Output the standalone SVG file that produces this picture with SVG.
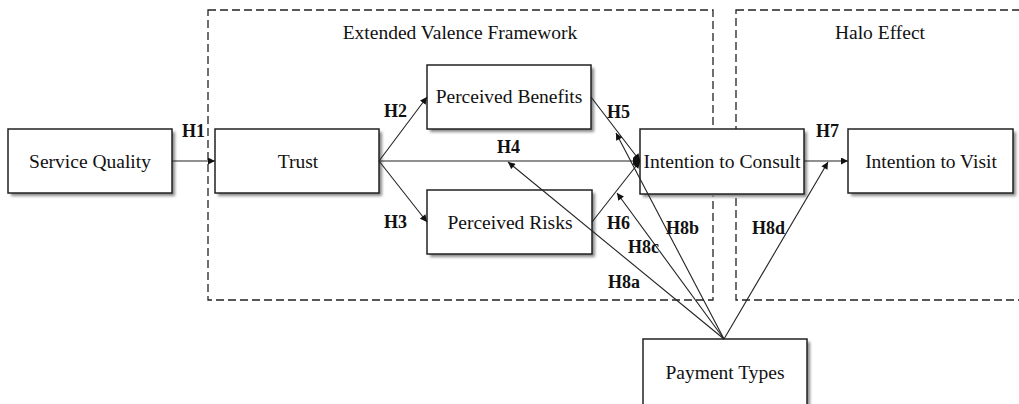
<svg xmlns="http://www.w3.org/2000/svg" width="1019" height="404" viewBox="0 0 1019 404">
<style>
.frame{fill:none;stroke:#222;stroke-width:1.3;stroke-dasharray:8 4}
.box{fill:#fff;stroke:#222;stroke-width:1.5}
.shadow{fill:#888;filter:url(#blur)}
.lbl{font-family:"Liberation Serif",serif;font-size:19.5px;fill:#111;text-anchor:middle}
.h{font-family:"Liberation Serif",serif;font-size:18px;font-weight:bold;fill:#111}
.ln{stroke:#222;stroke-width:1.1;fill:none;marker-end:url(#arr)}
</style>
<defs>
<filter id="blur" x="-10%" y="-10%" width="120%" height="130%"><feGaussianBlur stdDeviation="1.5"/></filter>
<marker id="arr" viewBox="0 0 10 10" refX="10" refY="5" markerWidth="8" markerHeight="7" markerUnits="userSpaceOnUse" orient="auto"><path d="M0,0 L10,5 L0,10 z" fill="#111"/></marker>
</defs>
<rect width="1019" height="404" fill="#fff"/>
<g id="frames">
<rect class="frame" x="208" y="10" width="505" height="290"/>
<rect class="frame" x="736" y="10" width="300" height="290"/>
<text class="lbl" x="460" y="39">Extended Valence Framework</text>
<text class="lbl" x="880" y="39">Halo Effect</text>
</g>
<g id="service-quality">
<rect class="shadow" x="11" y="132" width="164" height="64"/>
<rect class="box" x="8" y="129" width="164" height="64"/>
<text class="lbl" x="90" y="168">Service Quality</text>
</g>
<g id="trust">
<rect class="shadow" x="218" y="132" width="164" height="64"/>
<rect class="box" x="215" y="129" width="164" height="64"/>
<text class="lbl" x="298" y="168">Trust</text>
</g>
<g id="perceived-benefits">
<rect class="shadow" x="430" y="68" width="164" height="64"/>
<rect class="box" x="427" y="65" width="164" height="64"/>
<text class="lbl" x="509" y="103">Perceived Benefits</text>
</g>
<g id="perceived-risks">
<rect class="shadow" x="430" y="193" width="165" height="64"/>
<rect class="box" x="427" y="190" width="165" height="64"/>
<text class="lbl" x="510" y="229">Perceived Risks</text>
</g>
<g id="intention-consult">
<rect class="shadow" x="643" y="132" width="164" height="65"/>
<rect class="box" x="640" y="129" width="164" height="65"/>
<text class="lbl" x="722" y="168" textLength="157" lengthAdjust="spacingAndGlyphs">Intention to Consult</text>
</g>
<g id="intention-visit">
<rect class="shadow" x="851" y="132" width="165" height="64"/>
<rect class="box" x="848" y="129" width="165" height="64"/>
<text class="lbl" x="931" y="168">Intention to Visit</text>
</g>
<g id="payment-types">
<rect class="shadow" x="646" y="342" width="164" height="70"/>
<rect class="box" x="643" y="339" width="164" height="70"/>
<text class="lbl" x="725" y="379">Payment Types</text>
</g>
<g id="connectors">
<line class="ln" x1="172" y1="161" x2="215" y2="161"/>
<line class="ln" x1="379" y1="161" x2="427" y2="97"/>
<line class="ln" x1="379" y1="161" x2="427" y2="222"/>
<line class="ln" x1="379" y1="161" x2="640" y2="161"/>
<line class="ln" x1="591" y1="97" x2="640" y2="161"/>
<line class="ln" x1="592" y1="222" x2="640" y2="161"/>
<line class="ln" x1="804" y1="161" x2="848" y2="161"/>
<line class="ln" x1="724" y1="339" x2="508" y2="162"/>
<line class="ln" x1="724" y1="339" x2="616" y2="133"/>
<line class="ln" x1="724" y1="339" x2="617" y2="193"/>
<line class="ln" x1="724" y1="339" x2="828" y2="162"/>
<ellipse cx="637" cy="161" rx="3" ry="5" fill="#111"/>
</g>
<g id="labels">
<text class="h" x="182" y="137">H1</text>
<text class="h" x="384" y="117">H2</text>
<text class="h" x="384" y="228">H3</text>
<text class="h" x="497" y="153">H4</text>
<text class="h" x="607" y="118">H5</text>
<text class="h" x="607" y="229">H6</text>
<text class="h" x="816" y="137">H7</text>
<text class="h" x="608" y="288">H8a</text>
<text class="h" x="666" y="234">H8b</text>
<text class="h" x="628" y="253">H8c</text>
<text class="h" x="752" y="234">H8d</text>
</g>
</svg>
